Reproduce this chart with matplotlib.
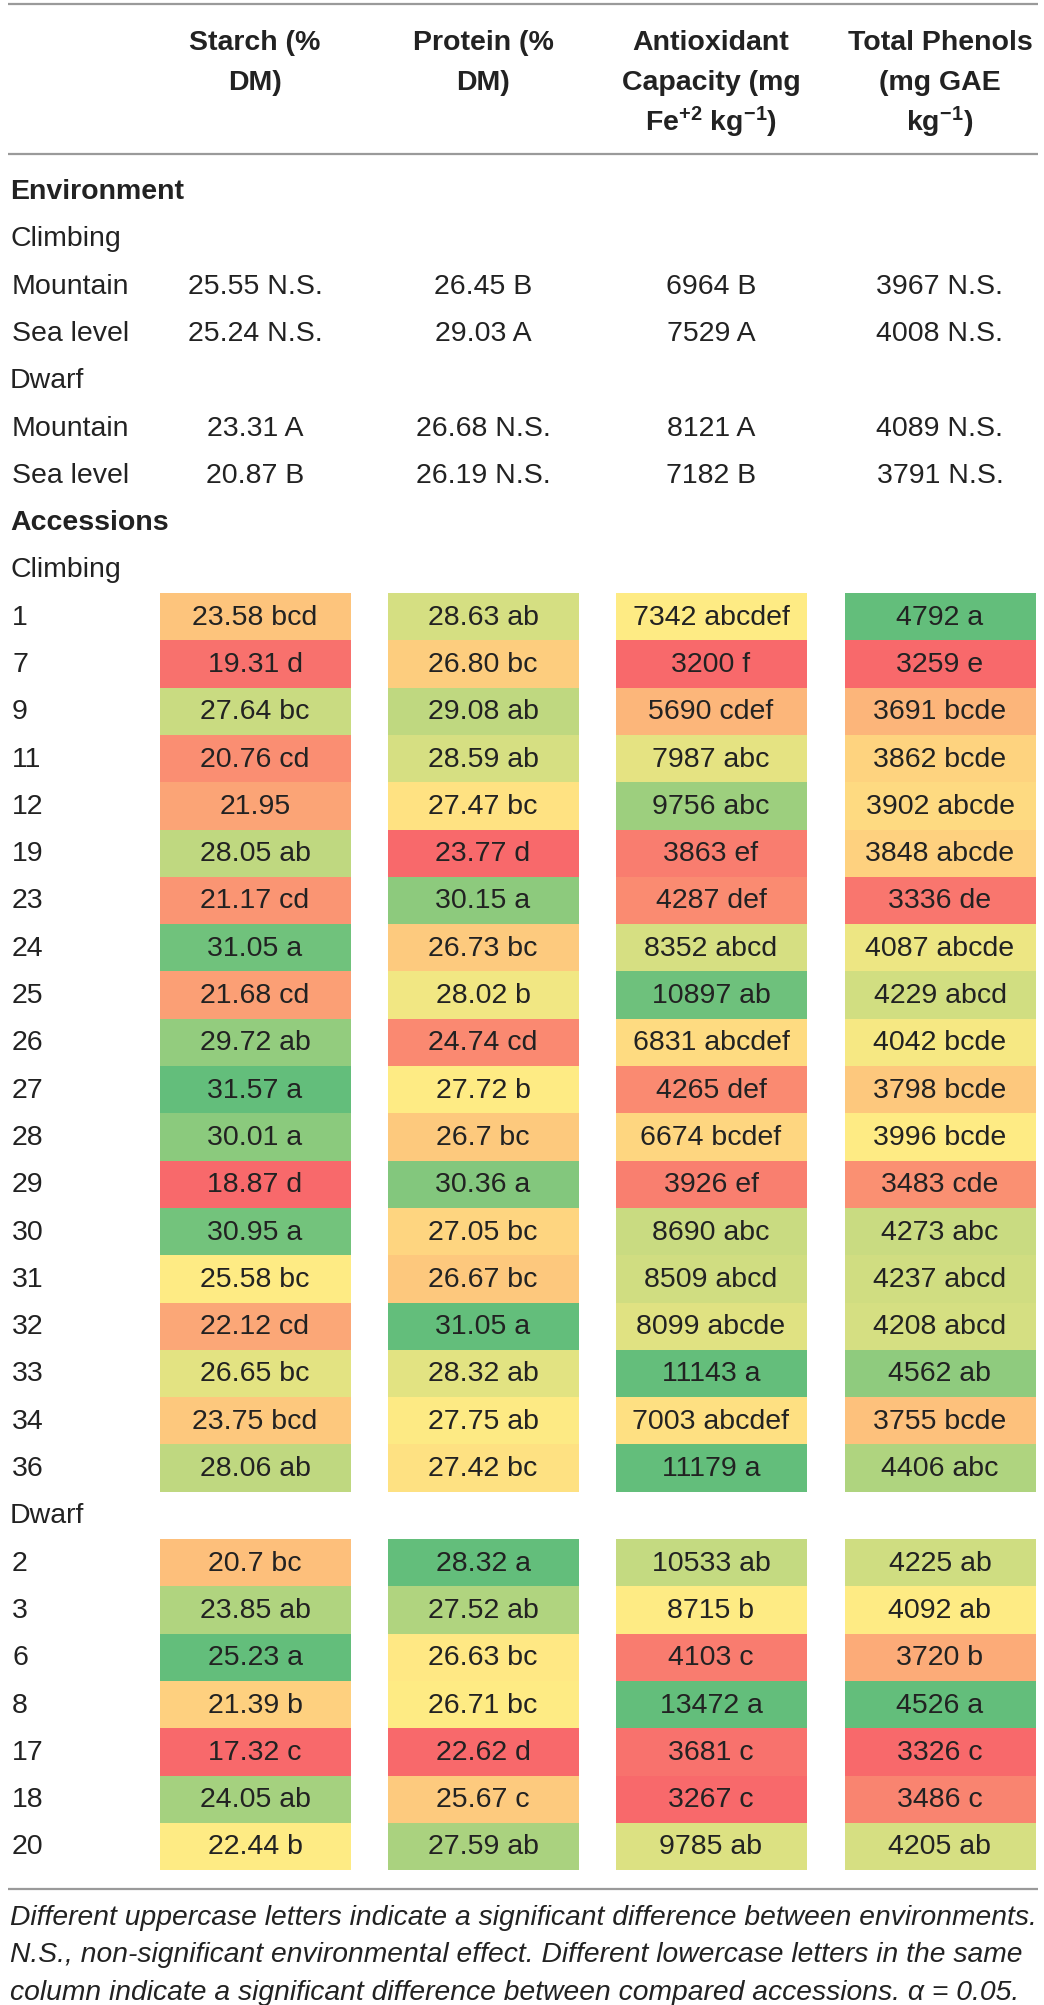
import matplotlib.pyplot as plt
import matplotlib.colors as mcolors
from matplotlib.patches import Rectangle
import numpy as np

plt.rcParams.update({
    'font.family':      ['Liberation Sans', 'DejaVu Sans'],
    'mathtext.fontset': 'custom',
    'mathtext.rm':      'Liberation Sans',
    'mathtext.bf':      'Liberation Sans:bold',
    'mathtext.default': 'regular',
})

# --- data -------------------------------------------------------------
HEADERS = [['Starch (%', 'DM)'],
           ['Protein (%', 'DM)'],
           ['Antioxidant', 'Capacity (mg', r'Fe$^{+2}$ kg$^{-1}$)'],
           ['Total Phenols', '(mg GAE', r'kg$^{-1}$)']]

ENV_GROUPS = ['Climbing', 'Dwarf']
ENV_SITES = ['Mountain', 'Sea level']
env_starch = [['25.55 N.S.', '25.24 N.S.'], ['23.31 A', '20.87 B']]
env_protein = [['26.45 B', '29.03 A'], ['26.68 N.S.', '26.19 N.S.']]
env_antiox = [['6964 B', '7529 A'], ['8121 A', '7182 B']]
env_phenol = [['3967 N.S.', '4008 N.S.'], ['4089 N.S.', '3791 N.S.']]

climbing_ids = ['1', '7', '9', '11', '12', '19', '23', '24', '25', '26', '27',
                '28', '29', '30', '31', '32', '33', '34', '36']
starch_climb = ['23.58', '19.31', '27.64', '20.76', '21.95', '28.05', '21.17', '31.05',
                '21.68', '29.72', '31.57', '30.01', '18.87', '30.95', '25.58', '22.12',
                '26.65', '23.75', '28.06']
starch_climb_sig = ['bcd', 'd', 'bc', 'cd', '', 'ab', 'cd', 'a', 'cd', 'ab', 'a', 'a',
                    'd', 'a', 'bc', 'cd', 'bc', 'bcd', 'ab']
protein_climb = ['28.63', '26.80', '29.08', '28.59', '27.47', '23.77', '30.15', '26.73',
                 '28.02', '24.74', '27.72', '26.7', '30.36', '27.05', '26.67', '31.05',
                 '28.32', '27.75', '27.42']
protein_climb_sig = ['ab', 'bc', 'ab', 'ab', 'bc', 'd', 'a', 'bc', 'b', 'cd', 'b', 'bc',
                     'a', 'bc', 'bc', 'a', 'ab', 'ab', 'bc']
antiox_climb = ['7342', '3200', '5690', '7987', '9756', '3863', '4287', '8352', '10897',
                '6831', '4265', '6674', '3926', '8690', '8509', '8099', '11143', '7003',
                '11179']
antiox_climb_sig = ['abcdef', 'f', 'cdef', 'abc', 'abc', 'ef', 'def', 'abcd', 'ab',
                    'abcdef', 'def', 'bcdef', 'ef', 'abc', 'abcd', 'abcde', 'a',
                    'abcdef', 'a']
phenol_climb = ['4792', '3259', '3691', '3862', '3902', '3848', '3336', '4087', '4229',
                '4042', '3798', '3996', '3483', '4273', '4237', '4208', '4562', '3755',
                '4406']
phenol_climb_sig = ['a', 'e', 'bcde', 'bcde', 'abcde', 'abcde', 'de', 'abcde', 'abcd',
                    'bcde', 'bcde', 'bcde', 'cde', 'abc', 'abcd', 'abcd', 'ab', 'bcde',
                    'abc']

dwarf_ids = ['2', '3', '6', '8', '17', '18', '20']
starch_dwarf = ['20.7', '23.85', '25.23', '21.39', '17.32', '24.05', '22.44']
starch_dwarf_sig = ['bc', 'ab', 'a', 'b', 'c', 'ab', 'b']
protein_dwarf = ['28.32', '27.52', '26.63', '26.71', '22.62', '25.67', '27.59']
protein_dwarf_sig = ['a', 'ab', 'bc', 'bc', 'd', 'c', 'ab']
antiox_dwarf = ['10533', '8715', '4103', '13472', '3681', '3267', '9785']
antiox_dwarf_sig = ['ab', 'b', 'c', 'a', 'c', 'c', 'ab']
phenol_dwarf = ['4225', '4092', '3720', '4526', '3326', '3486', '4205']
phenol_dwarf_sig = ['ab', 'ab', 'b', 'a', 'c', 'c', 'ab']

FOOTNOTE = ['Different uppercase letters indicate a significant difference between environments.',
            'N.S., non-significant environmental effect. Different lowercase letters in the same',
            'column indicate a significant difference between compared accessions. \u03b1 = 0.05.']

# --- layout -----------------------------------------------------------
W, H = 1044, 2006
ROW0, ROW_H = 192, 47.3           # pixel centre of first body row, row height
COL_X = [255, 483, 711, 940]
CELL_W = 191
FS = 20.5
TXT = '#222222'
RULE = '#9a9a9a'

# Excel-like 3-colour scale: min red, median yellow, max green
cmap = mcolors.LinearSegmentedColormap.from_list(
    'ryg', ['#F8696B', '#FFEB84', '#63BE7B'])

fig = plt.figure(figsize=(W / 100, H / 100), dpi=100)
ax = fig.add_axes([0, 0, 1, 1])
ax.set_xlim(0, W)
ax.set_ylim((H - ROW0) / ROW_H, -ROW0 / ROW_H)
ax.axis('off')


def rule(k):
    ax.plot([8, 1038], [k, k], color=RULE, lw=1.6, solid_capstyle='butt')


def label(k, s, bold=False, x=10):
    ax.text(x, k, s, ha='left', va='center', fontsize=FS, color=TXT,
            fontweight='bold' if bold else 'normal')


# header
rule(-3.95)
for xc, lines in zip(COL_X, HEADERS):
    for j, s in enumerate(lines):
        ax.text(xc, -3.15 + 0.835 * j, s, ha='center', va='center',
                fontsize=FS, fontweight='bold', color=TXT)
rule(-0.78)

# environment block
k = 0
label(k, 'Environment', bold=True)
env_cols = [env_starch, env_protein, env_antiox, env_phenol]
for g, grp in enumerate(ENV_GROUPS):
    k += 1
    label(k, grp)
    for s, site in enumerate(ENV_SITES):
        k += 1
        label(k, site, x=12)
        for xc, col in zip(COL_X, env_cols):
            ax.text(xc, k, col[g][s], ha='center', va='center', fontsize=FS, color=TXT)

# accessions block
k += 1
label(k, 'Accessions', bold=True)
groups = [
    ('Climbing', climbing_ids,
     [(starch_climb, starch_climb_sig), (protein_climb, protein_climb_sig),
      (antiox_climb, antiox_climb_sig), (phenol_climb, phenol_climb_sig)]),
    ('Dwarf', dwarf_ids,
     [(starch_dwarf, starch_dwarf_sig), (protein_dwarf, protein_dwarf_sig),
      (antiox_dwarf, antiox_dwarf_sig), (phenol_dwarf, phenol_dwarf_sig)]),
]
for name, ids, cols in groups:
    k += 1
    label(k, name)
    start = k + 1
    for i, acc in enumerate(ids):
        label(start + i, acc, x=12)
    for xc, (vals, sig) in zip(COL_X, cols):
        v = np.array([float(x) for x in vals])
        norm = mcolors.TwoSlopeNorm(vmin=v.min(), vcenter=np.median(v), vmax=v.max())
        for i, (txt, val, let) in enumerate(zip(vals, v, sig)):
            ax.add_patch(Rectangle((xc - CELL_W / 2, start + i - 0.5), CELL_W, 1,
                                   facecolor=cmap(norm(val)), edgecolor='none'))
            ax.text(xc, start + i, f'{txt} {let}'.strip(), ha='center', va='center',
                    fontsize=FS, color=TXT)
    k = start + len(ids) - 1

# footnote
rule(k + 0.9)
for j, s in enumerate(FOOTNOTE):
    ax.text(10, k + 1.48 + 0.8 * j, s, ha='left', va='center', fontsize=20.3,
            style='italic', color=TXT)

fig.savefig('out.png', dpi=100)
plt.close(fig)
